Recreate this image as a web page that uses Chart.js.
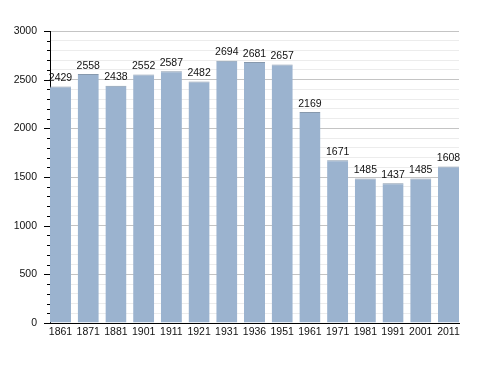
<!DOCTYPE html>
<html>
<head>
<meta charset="utf-8">
<script src="https://cdn.jsdelivr.net/npm/chart.js@4"></script>
<style>
  html, body { margin: 0; padding: 0; background: #fff; }
  #wrap { width: 488px; height: 373px; }
</style>
</head>
<body>
<div id="wrap"><canvas id="popChart" width="488" height="373"></canvas></div>
<script>
const years = ['1861', '1871', '1881', '1901', '1911', '1921', '1931', '1936', '1951', '1961', '1971', '1981', '1991', '2001', '2011'];
const population = [2429, 2558, 2438, 2552, 2587, 2482, 2694, 2681, 2657, 2169, 1671, 1485, 1437, 1485, 1608];
const yTicks = [0, 500, 1000, 1500, 2000, 2500, 3000];

const FONT = 'Liberation Sans, Arial, sans-serif';

// value labels above bars + outward tick marks on the y axis
const extras = {
    id: 'extras',
    afterDatasetsDraw(chart) {
        const ctx = chart.ctx;
        const meta = chart.getDatasetMeta(0);
        ctx.save();
        ctx.fillStyle = '#111';
        ctx.font = '10.5px ' + FONT;
        ctx.textAlign = 'center';
        ctx.textBaseline = 'bottom';
        meta.data.forEach((bar, i) => {
            ctx.fillText(population[i], bar.x, bar.y - 3);
        });

        // y ticks
        const y = chart.scales.y;
        const x0 = chart.chartArea.left;
        ctx.strokeStyle = '#000';
        ctx.lineWidth = 1;
        for (let v = 0; v <= 3000; v += 100) {
            const py = Math.round(y.getPixelForValue(v)) + 0.5;
            const len = (v % 500 === 0) ? 6 : 3;
            ctx.beginPath();
            ctx.moveTo(x0 - len, py);
            ctx.lineTo(x0, py);
            ctx.stroke();
        }
        ctx.restore();
    }
};

new Chart(document.getElementById('popChart'), {
    type: 'bar',
    data: {
        datasets: [{
            data: population.map((v, i) => ({ x: i, y: v })),
            backgroundColor: '#9bb3cf',
            borderColor: '#8799ad',
            borderWidth: { top: 1, left: 0, right: 0, bottom: 0 },
            borderSkipped: 'bottom',
            categoryPercentage: 1,
            barPercentage: 0.76
        }]
    },
    options: {
        responsive: false,
        animation: false,
        layout: { padding: { left: 0, right: 29, top: 31, bottom: 30 } },
        plugins: {
            legend: { display: false },
            tooltip: { enabled: false }
        },
        scales: {
            x: {
                type: 'linear',
                offset: false,
                min: -0.38,
                max: 14.38,
                afterBuildTicks(scale) {
                    scale.ticks = years.map((y, i) => ({ value: i }));
                },
                afterFit(scale) { scale.height = 20; },
                grid: { display: false, drawTicks: false },
                border: { display: true, color: '#000', width: 1 },
                ticks: {
                    color: '#111',
                    font: { family: FONT, size: 10.5 },
                    padding: 3,
                    maxRotation: 0,
                    autoSkip: false,
                    callback: (v) => years[v]
                }
            },
            y: {
                min: 0,
                max: 3000,
                afterFit(scale) { scale.width = 50; },
                afterBuildTicks(scale) {
                    const t = [];
                    for (let v = 0; v <= 3000; v += 100) t.push({ value: v });
                    scale.ticks = t;
                },
                grid: {
                    drawTicks: false,
                    color: (c) => {
                        const v = c.tick ? c.tick.value : 0;
                        if (v === 0) return 'rgba(0,0,0,0)';
                        return (v % 500 === 0) ? '#c4c4c4' : '#ececec';
                    }
                },
                border: { display: true, color: '#000', width: 1 },
                ticks: {
                    color: '#111',
                    font: { family: FONT, size: 10.5 },
                    padding: 13,
                    autoSkip: false,
                    callback: (v) => yTicks.includes(v) ? v : ''
                }
            }
        }
    },
    plugins: [extras]
});
</script>
</body>
</html>
